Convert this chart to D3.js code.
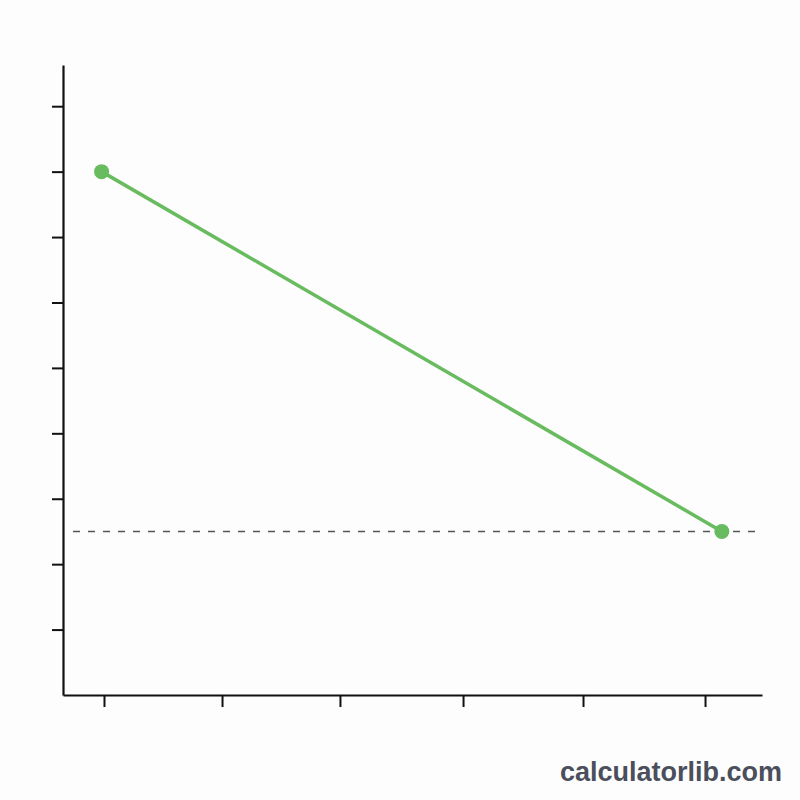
<!DOCTYPE html>
<html>
<head>
<meta charset="utf-8">
<script src="https://cdn.jsdelivr.net/npm/d3@7"></script>
<style>
  html, body { margin: 0; padding: 0; background: #fdfdfd; }
  svg { display: block; }
</style>
</head>
<body>
<svg id="chart" width="800" height="800"></svg>
<script>
// Data
const xValues = [-0.02, 5.14];
const yValues = [8, 2.5];
const referenceValue = 2.5;
const xTickValues = [0, 0.982, 1.963, 2.987, 3.985, 5];
const yTickValues = [1, 2, 3, 4, 5, 6, 7, 8, 9];

const svg = d3.select("#chart");
svg.append("rect").attr("width", 800).attr("height", 800).attr("fill", "#fdfdfd");

const x = d3.scaleLinear().domain([-0.341, 5.474]).range([63, 762]);
const y = d3.scaleLinear().domain([0, 9.63]).range([695, 65]);

// Axes
const yAxis = d3.axisLeft(y).tickValues(yTickValues).tickSize(11).tickFormat("").tickSizeOuter(0);
const xAxis = d3.axisBottom(x).tickValues(xTickValues).tickSize(12).tickFormat("").tickSizeOuter(0);

const gy = svg.append("g").attr("transform", "translate(63,0)").call(yAxis);
const gx = svg.append("g").attr("transform", "translate(0,695)").call(xAxis);
[gx, gy].forEach(g => {
  g.select(".domain").attr("stroke", "#111").attr("stroke-width", 2.2);
  g.selectAll(".tick line").attr("stroke", "#111").attr("stroke-width", 2);
});

// Reference dashed line
svg.append("line")
  .attr("x1", 73).attr("x2", 762)
  .attr("y1", y(referenceValue)).attr("y2", y(referenceValue))
  .attr("stroke", "#555").attr("stroke-width", 1.4)
  .attr("stroke-dasharray", "7,8");

// Line
const pts = xValues.map((v, i) => [v, yValues[i]]);
svg.append("path")
  .datum(pts)
  .attr("fill", "none")
  .attr("stroke", "#69bb5f")
  .attr("stroke-width", 3.5)
  .attr("d", d3.line().x(d => x(d[0])).y(d => y(d[1])));

svg.selectAll("circle.pt").data(pts).enter().append("circle")
  .attr("class", "pt")
  .attr("cx", d => x(d[0])).attr("cy", d => y(d[1]))
  .attr("r", 7.5).attr("fill", "#69bb5f");

// Watermark
svg.append("text")
  .attr("x", 782).attr("y", 781)
  .attr("text-anchor", "end")
  .attr("font-family", "Liberation Sans, Arial, sans-serif")
  .attr("font-weight", "bold")
  .attr("font-size", 27)
  .attr("fill", "#4a4f5b")
  .text("calculatorlib.com");
</script>
</body>
</html>
